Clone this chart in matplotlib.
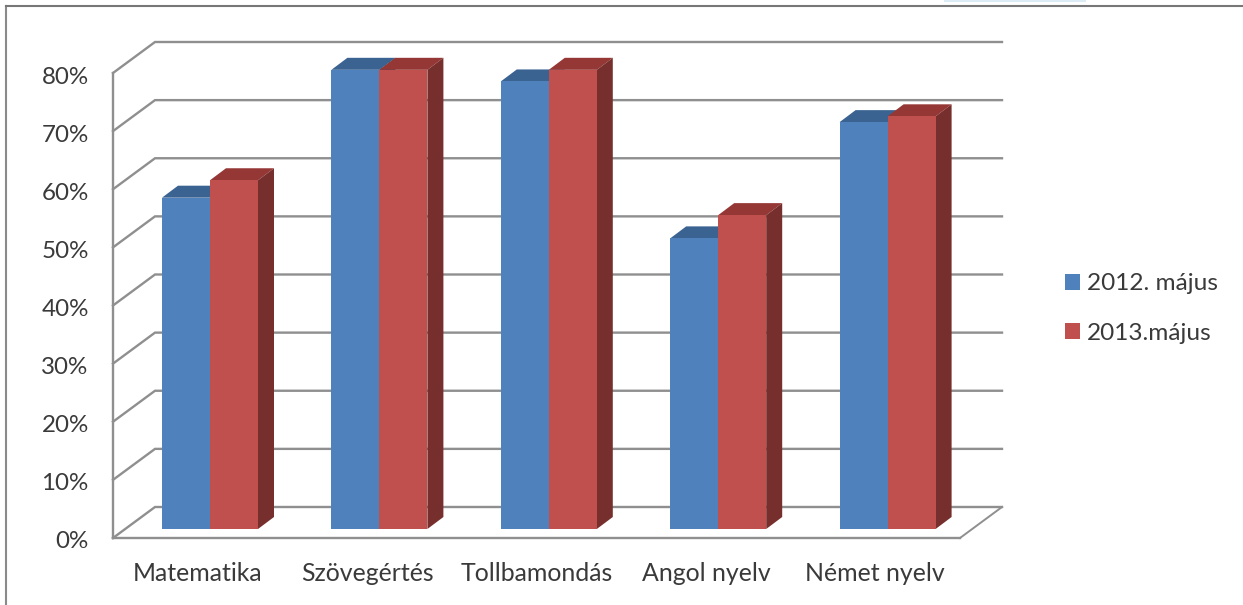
import matplotlib
matplotlib.use('Agg')
import matplotlib.pyplot as plt
from matplotlib.patches import Polygon, Patch
from matplotlib.lines import Line2D
from matplotlib.transforms import ScaledTranslation

# data
categories = ['Matematika', 'Szövegértés', 'Tollbamondás', 'Angol nyelv', 'Német nyelv']
may_2012 = [57, 79, 77, 50, 70]
may_2013 = [60, 79, 79, 54, 71]
series_names = ['2012. május', '2013.május']
y_ticks = [0, 10, 20, 30, 40, 50, 60, 70, 80]

W, H = 1243, 605
LINE = '#8f8f8f'
TEXT = '#3a3a3a'
plt.rcParams['font.family'] = ['Lato', 'DejaVu Sans']

fig = plt.figure(figsize=(W / 100, H / 100), dpi=100, facecolor='white')
# front plane of the fake 3d box: x 113..960, y 538..73 (pixels)
ax = fig.add_axes([113 / W, 1 - 538 / H, (960 - 113) / W, (538 - 73) / H])
ax.set_xlim(0, 5)
ax.set_ylim(0, 80)
ax.patch.set_alpha(0)

px_x = 5 / (960 - 113)
px_y = 80 / (538 - 73)

# wall depth, bar depth, bar placement
wall_dx, wall_dy = 42 * px_x, 31 * px_y
bar_dx, bar_dy = 16 * px_x, 12 * px_y
bar_w = 48 * px_x
bar_off = 49 * px_x
bar_base = 9 * px_y

# walls
for v in y_ticks:
    ax.plot([0, wall_dx, 5 + wall_dx], [v, v + wall_dy, v + wall_dy], color=LINE, lw=1.7,
            clip_on=False, zorder=1, solid_joinstyle='miter')
ax.plot([5, 5 + wall_dx], [0, wall_dy], color=LINE, lw=1.4, clip_on=False, zorder=1)

for s in ['top', 'right']:
    ax.spines[s].set_visible(False)
for s in ['left', 'bottom']:
    ax.spines[s].set_color(LINE)
    ax.spines[s].set_linewidth(1.7)
    ax.spines[s].set_zorder(2)


def draw_bar(x, val, front, top, side):
    y0 = bar_base
    y1 = bar_base + val
    ax.add_patch(Polygon([(x, y1), (x + bar_dx, y1 + bar_dy), (x + bar_w + bar_dx, y1 + bar_dy),
                          (x + bar_w, y1)], fc=top, ec='none', clip_on=False, zorder=3))
    ax.add_patch(Polygon([(x + bar_w, y0), (x + bar_w + bar_dx, y0 + bar_dy),
                          (x + bar_w + bar_dx, y1 + bar_dy), (x + bar_w, y1)],
                         fc=side, ec='none', clip_on=False, zorder=3))
    ax.bar(x, val, bar_w, bottom=y0, align='edge', color=front, clip_on=False, zorder=4)


for i in range(len(categories)):
    draw_bar(i + bar_off, may_2012[i], '#4f81bd', '#3b6392', '#2f4f76')
    draw_bar(i + bar_off + bar_w, may_2013[i], '#c0504d', '#953735', '#772f2d')

ax.set_xticks([i + 0.5 for i in range(5)])
ax.set_xticklabels(categories, fontsize=17.9, color=TEXT)
ax.set_yticks(y_ticks)
ax.set_yticklabels([str(v) + '%' for v in y_ticks], fontsize=17.4, color=TEXT)
ax.tick_params(axis='x', length=0, pad=17.5)
ax.tick_params(axis='y', length=0, pad=17.5)
# labels sit a little below their gridline in the original
shift = ScaledTranslation(0, -2 / 100, fig.dpi_scale_trans)
for lab in ax.get_yticklabels():
    lab.set_transform(lab.get_transform() + shift)

handles = [Patch(fc='#4f81bd', ec='none'), Patch(fc='#c0504d', ec='none')]
fig.legend(handles, series_names, loc='center left', bbox_to_anchor=(1058 / W, 1 - 308.5 / H),
           frameon=False, fontsize=17.6, labelcolor=TEXT, handlelength=0.62, handleheight=0.62,
           handletextpad=0.27, labelspacing=1.17, borderpad=0.3, borderaxespad=0)

# picture frame (screenshot edge)
fig.add_artist(Line2D([6 / W, 6 / W], [0, 1 - 6 / H], color='#8a8a8a', lw=1.5))
fig.add_artist(Line2D([6 / W, 1], [1 - 6 / H, 1 - 6 / H], color='#777777', lw=1.5))
fig.add_artist(Line2D([945 / W, 1085 / W], [1 - 0.5 / H, 1 - 0.5 / H], color='#dcecf7', lw=1.5))

fig.savefig('out.png', dpi=100)
